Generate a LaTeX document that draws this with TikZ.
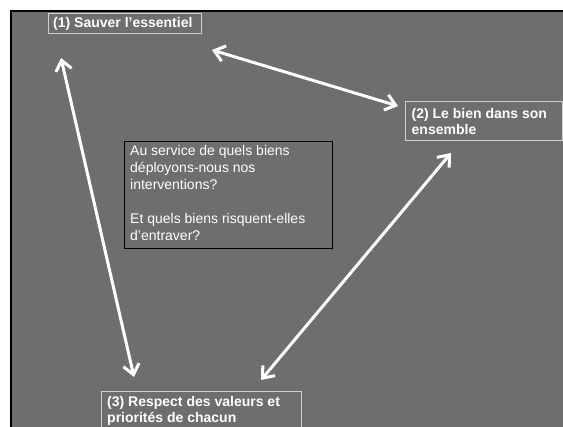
\documentclass[tikz,border=0pt]{standalone}
\usepackage{fontspec}
\setmainfont{Liberation Sans}
\usetikzlibrary{arrows.meta}
\definecolor{bg}{HTML}{6E6E6E}
\definecolor{frame}{HTML}{D0D0D0}
\begin{document}
\begin{tikzpicture}[x=1pt,y=-1pt,
  lbl/.style={anchor=base west, align=left, inner sep=0pt, text=white,
    font=\fontsize{14}{16}\selectfont\bfseries},
  qtxt/.style={anchor=base west, align=left, inner sep=0pt, text=white,
    font=\fontsize{14}{17}\selectfont},
  box/.style={draw=frame, line width=1pt, anchor=north west, inner sep=0pt},
  qbox/.style={draw=black, line width=1pt, anchor=north west, inner sep=0pt},
  link/.style={draw=white, line width=3pt,
    {Straight Barb[length=10pt,width=16pt]}-{Straight Barb[length=10pt,width=16pt]}}
]
\useasboundingbox (0,0) rectangle (563,427);
\fill[white] (0,0) rectangle (563,427);
\fill[bg] (11,11) rectangle (563,427);
\draw[line width=2pt] (11,430) -- (11,11) -- (566,11);

% boxes (text nodes are anchored at the baseline of their last line)
\node[box, minimum width=153pt, minimum height=20pt] (b1) at (48,13) {};
\node[lbl] (t1) at (53,28) {(1) Sauver l’essentiel};

\node[box, minimum width=157pt, minimum height=39pt] (b2) at (405,101) {};
\node[lbl] (t2) at (411.5,134.5) {(2) Le bien dans son\\ensemble};

\node[qbox, minimum width=208pt, minimum height=107pt] (q) at (124,141) {};
\node[qtxt] (tq) at (130,241) {Au service de quels biens\\déployons-nous nos\\interventions?\\[17pt]Et quels biens risquent-elles\\d’entraver?};

\node[box, minimum width=200pt, minimum height=50pt] (b3) at (101,391) {};
\node[lbl] (t3) at (107,422.5) {(3) Respect des valeurs et\\priorités de chacun};

% arrow ends
\coordinate (a1) at (61,58);
\coordinate (a3) at (134,377);
\coordinate (b1e) at (212,50);
\coordinate (b2e) at (398,106);
\coordinate (c2) at (451,153);
\coordinate (c3) at (261,380);

\draw[link] (a1) -- (a3);
\draw[link] (b1e) -- (b2e);
\draw[link] (c2) -- (c3);
\end{tikzpicture}
\end{document}
